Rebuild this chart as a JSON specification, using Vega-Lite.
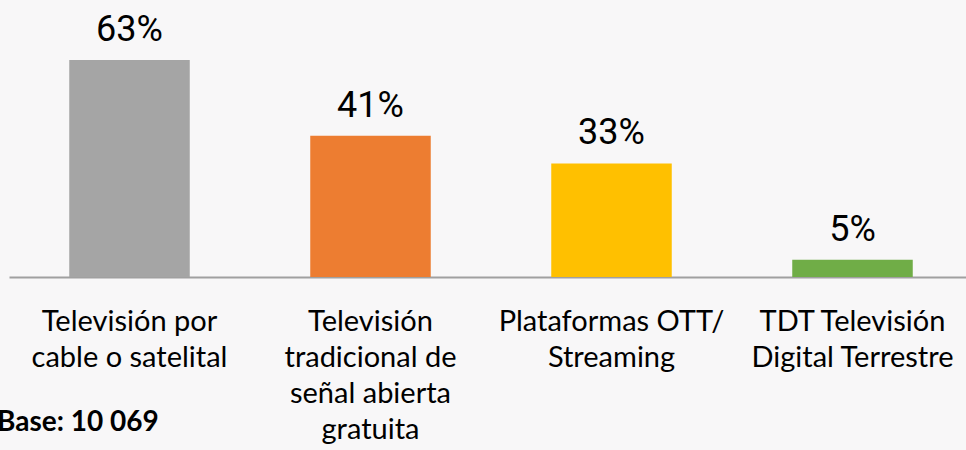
{
  "$schema": "https://vega.github.io/schema/vega-lite/v6.json",
  "width": 964,
  "height": 241,
  "autosize": {"type": "none"},
  "padding": {"left": 9, "top": 36, "right": 0, "bottom": 173},
  "background": "#f8f7f8",
  "config": {"view": {"stroke": null}},
  "title": {
    "text": "Base: 10 069",
    "orient": "bottom",
    "anchor": "start",
    "frame": "group",
    "font": "Lato",
    "fontWeight": "bold",
    "fontSize": 28,
    "color": "#000000",
    "dx": -12,
    "offset": -35
  },
  "data": {
    "values": [
      {"medio": "Televisión por|cable o satelital", "pct": 63, "label": "63%"},
      {"medio": "Televisión|tradicional de|señal abierta|gratuita", "pct": 41, "label": "41%"},
      {"medio": "Plataformas OTT/|Streaming", "pct": 33, "label": "33%"},
      {"medio": "TDT Televisión|Digital Terrestre", "pct": 5, "label": "5%"}
    ]
  },
  "encoding": {
    "x": {
      "field": "medio",
      "type": "nominal",
      "sort": null,
      "scale": {"paddingInner": 0.5, "paddingOuter": 0.25},
      "axis": {
        "title": null,
        "labelAngle": 0,
        "labelExpr": "split(datum.label, '|')",
        "labelFont": "Lato",
        "labelFontSize": 29,
        "labelColor": "#000000",
        "labelLineHeight": 36,
        "labelPadding": 30,
        "labelLimit": 400,
        "labelBaseline": "top",
        "ticks": false,
        "domainColor": "#a0a0a0",
        "domainWidth": 2
      }
    },
    "y": {
      "field": "pct",
      "type": "quantitative",
      "scale": {"domain": [0, 70]},
      "axis": null
    }
  },
  "layer": [
    {
      "mark": {"type": "bar"},
      "encoding": {
        "color": {
          "field": "medio",
          "type": "nominal",
          "sort": null,
          "scale": {"range": ["#a5a5a5", "#ed7d31", "#ffc000", "#70ad47"]},
          "legend": null
        }
      }
    },
    {
      "mark": {
        "type": "text",
        "baseline": "alphabetic",
        "dy": -19,
        "font": "Liberation Sans Narrow, Roboto",
        "fontSize": 36,
        "color": "#000000"
      },
      "encoding": {"text": {"field": "label"}}
    }
  ]
}
